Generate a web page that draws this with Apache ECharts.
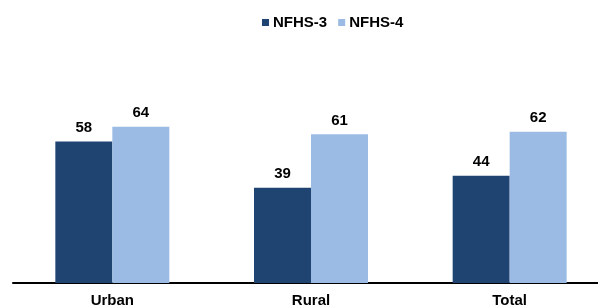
<!DOCTYPE html>
<html lang="en">
<head>
    <meta charset="UTF-8">
    <title>NFHS-3 vs NFHS-4</title>
    <script src="https://cdn.jsdelivr.net/npm/echarts@6/dist/echarts.min.js"></script>
    <style>
        html, body { margin: 0; padding: 0; background: #fff; }
        /* axis runs past the right edge of the picture, so the chart is a bit wider than its frame */
        #frame { width: 598px; height: 306px; overflow: hidden; position: relative; }
        #main { width: 610px; height: 306px; position: absolute; left: 0; top: 0; }
    </style>
</head>
<body>
    <div id="frame"><div id="main"></div></div>
    <script>
        var categories = ['Urban', 'Rural', 'Total'];
        var nfhs3 = [58, 39, 44];
        var nfhs4 = [64, 61, 62];

        var myChart = echarts.init(document.getElementById('main'));

        var labelStyle = {
            show: true,
            position: 'top',
            distance: 6,
            color: '#000',
            fontFamily: 'Liberation Sans, Arial, sans-serif',
            fontWeight: 'bold',
            fontSize: 15
        };

        myChart.setOption({
            animation: false,
            legend: {
                top: 10,
                left: 257,
                itemWidth: 7,
                itemHeight: 7,
                itemGap: 11,
                icon: 'rect',
                textStyle: {
                    fontFamily: 'Liberation Sans, Arial, sans-serif',
                    fontWeight: 'bold',
                    fontSize: 15,
                    color: '#000',
                    padding: [0, 0, 0, -1]
                },
                data: ['NFHS-3', 'NFHS-4']
            },
            // labels hang off the bottom edge in the original, so don't let v6 push the grid up
            grid: { left: 13, right: 1, top: 39, bottom: 23, containLabel: false, outerBoundsMode: 'none' },
            xAxis: {
                type: 'category',
                data: categories,
                axisLine: { lineStyle: { color: '#000', width: 2 } },
                axisTick: { show: false },
                axisLabel: {
                    margin: 10,
                    color: '#000',
                    fontFamily: 'Liberation Sans, Arial, sans-serif',
                    fontWeight: 'bold',
                    fontSize: 15
                }
            },
            yAxis: {
                type: 'value',
                min: 0,
                max: 100,
                show: false,
                splitLine: { show: false }
            },
            series: [
                {
                    name: 'NFHS-3',
                    type: 'bar',
                    data: nfhs3,
                    barWidth: 57,
                    barGap: '0%',
                    itemStyle: { color: '#1f4472' },
                    label: labelStyle
                },
                {
                    name: 'NFHS-4',
                    type: 'bar',
                    data: nfhs4,
                    barWidth: 57,
                    barGap: '0%',
                    itemStyle: { color: '#9bbbe4' },
                    label: labelStyle
                }
            ]
        });
    </script>
</body>
</html>
